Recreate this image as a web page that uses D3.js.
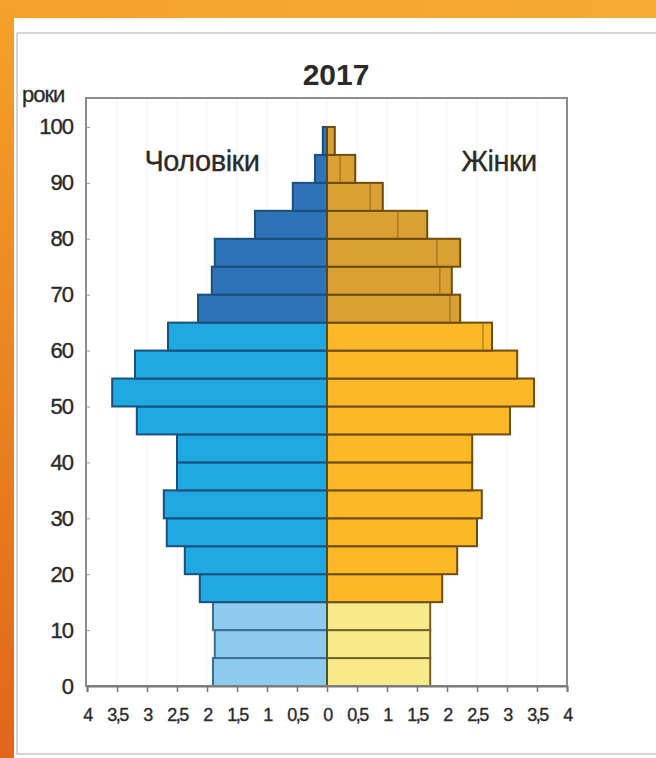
<!DOCTYPE html>
<html>
<head>
<meta charset="utf-8">
<script src="https://cdn.jsdelivr.net/npm/d3@7"></script>
<style>
  body { margin: 0; background: #fff; }
  svg text { font-family: "Liberation Sans", Arial, sans-serif; fill: #2a2a2a; }
</style>
</head>
<body>
<div id="chart"></div>
<script>
// вікові групи (початок інтервалу), %
const ageGroups = [0, 5, 10, 15, 20, 25, 30, 35, 40, 45, 50, 55, 60, 65, 70, 75, 80, 85, 90, 95];
const male   = [1.9, 1.87, 1.9, 2.12, 2.37, 2.67, 2.72, 2.5, 2.5, 3.17, 3.58, 3.2, 2.65, 2.15, 1.92, 1.87, 1.2, 0.57, 0.2, 0.07];
const female = [1.72, 1.72, 1.72, 1.92, 2.17, 2.5, 2.58, 2.42, 2.42, 3.05, 3.45, 3.17, 2.75, 2.22, 2.08, 2.22, 1.67, 0.93, 0.47, 0.13];
// внутрішні лінії на жіночих смугах (старші віки)
const femaleInner = [null, null, null, null, null, null, null, null, null, null, null, null, 2.6, 2.05, 1.88, 1.83, 1.18, 0.72, 0.22, null];
const yTicks = [0, 10, 20, 30, 40, 50, 60, 70, 80, 90, 100];
const xTicks = [-4, -3.5, -3, -2.5, -2, -1.5, -1, -0.5, 0, 0.5, 1, 1.5, 2, 2.5, 3, 3.5, 4];

const W = 656, H = 758;
const frame = { left: 86, right: 567, top: 98, bottom: 686 };

const svg = d3.select("#chart").append("svg").attr("width", W).attr("height", H);

// рамка слайда
const defs = svg.append("defs");
const gTop = defs.append("linearGradient").attr("id", "gTop").attr("x1", 0).attr("x2", 1);
gTop.append("stop").attr("offset", 0).attr("stop-color", "#f3a22a");
gTop.append("stop").attr("offset", 1).attr("stop-color", "#f7ab33");
const gLeft = defs.append("linearGradient").attr("id", "gLeft").attr("x1", 0).attr("x2", 0).attr("y1", 0).attr("y2", 1);
gLeft.append("stop").attr("offset", 0).attr("stop-color", "#f3a22a");
gLeft.append("stop").attr("offset", 1).attr("stop-color", "#e0661b");

svg.append("rect").attr("x", 0).attr("y", 0).attr("width", W).attr("height", 18).attr("fill", "url(#gTop)");
svg.append("rect").attr("x", 0).attr("y", 0).attr("width", 14).attr("height", H).attr("fill", "url(#gLeft)");
svg.append("rect").attr("x", 17).attr("y", 33).attr("width", W + 10).attr("height", 721)
    .attr("fill", "#fff").attr("stroke", "#c8c8c8").attr("stroke-width", 1.5);

const x = d3.scaleLinear().domain([-4, 4]).range([frame.left + 1, frame.right]);
const y = d3.scaleLinear().domain([0, 105]).range([frame.bottom, frame.top + 1]);

// ледь помітна сітка
svg.append("g").selectAll("line").data(xTicks.slice(1, -1)).join("line")
    .attr("x1", d => x(d)).attr("x2", d => x(d))
    .attr("y1", frame.top).attr("y2", frame.bottom)
    .attr("stroke", "#f3f3f3").attr("stroke-width", 1);

function fillMale(a) {
  if (a < 15) return "#8ccbee";
  if (a < 65) return "#20a8e1";
  return "#2e73b7";
}
function fillFemale(a) {
  if (a < 15) return "#f8ea8a";
  if (a < 65) return "#fbb827";
  return "#d9a134";
}

const bandH = y(0) - y(5);
const bars = svg.append("g");

bars.selectAll("rect.male").data(ageGroups).join("rect").attr("class", "male")
    .attr("x", (d, i) => x(-male[i])).attr("y", d => y(d + 5))
    .attr("width", (d, i) => x(0) - x(-male[i])).attr("height", bandH)
    .attr("fill", d => fillMale(d))
    .attr("stroke", d => d < 15 ? "#3c6e93" : "#1b4f7c").attr("stroke-width", 2);

bars.selectAll("rect.female").data(ageGroups).join("rect").attr("class", "female")
    .attr("x", x(0)).attr("y", d => y(d + 5))
    .attr("width", (d, i) => x(female[i]) - x(0)).attr("height", bandH)
    .attr("fill", d => fillFemale(d))
    .attr("stroke", d => d < 15 ? "#6f6428" : "#6e4c10").attr("stroke-width", 2);

bars.selectAll("line.inner").data(ageGroups.filter((d, i) => femaleInner[i] != null)).join("line")
    .attr("class", "inner")
    .attr("x1", d => x(femaleInner[ageGroups.indexOf(d)])).attr("x2", d => x(femaleInner[ageGroups.indexOf(d)]))
    .attr("y1", d => y(d + 5)).attr("y2", d => y(d))
    .attr("stroke", "#8a6216").attr("stroke-width", 1.5).attr("opacity", 0.6);

// центральна лінія
svg.append("line").attr("x1", x(0)).attr("x2", x(0)).attr("y1", y(100)).attr("y2", frame.bottom)
    .attr("stroke", "#4a4a30").attr("stroke-width", 1.5);

// рамка графіка
svg.append("rect").attr("x", frame.left).attr("y", frame.top)
    .attr("width", frame.right - frame.left).attr("height", frame.bottom - frame.top)
    .attr("fill", "none").attr("stroke", "#8c8c8c").attr("stroke-width", 2);

// вісь Y
const yAxis = d3.axisLeft(y).tickValues(yTicks).tickSize(-4).tickPadding(13);
const gy = svg.append("g").attr("transform", `translate(${frame.left},0)`).call(yAxis);
gy.select(".domain").remove();
gy.selectAll(".tick line").attr("stroke", "#999");
gy.selectAll(".tick text").attr("font-size", 22).attr("fill", "#2a2a2a")
    .attr("stroke", "#2a2a2a").attr("stroke-width", 0.4)
    .style("font-family", "'Liberation Sans', Arial, sans-serif")
    .style("letter-spacing", "-1px");

// вісь X
const fmt = d => String(Math.abs(d)).replace(".", ",");
const xAxis = d3.axisBottom(x).tickValues(xTicks).tickFormat(fmt).tickSize(6).tickPadding(16);
const gx = svg.append("g").attr("transform", `translate(0,${frame.bottom})`).call(xAxis);
gx.select(".domain").attr("stroke", "#777").attr("stroke-width", 2);
gx.selectAll(".tick line").attr("stroke", "#777").attr("stroke-width", 1.5);
gx.selectAll(".tick text").attr("font-size", 18).attr("fill", "#2a2a2a")
    .attr("stroke", "#2a2a2a").attr("stroke-width", 0.35)
    .style("font-family", "'Liberation Sans', Arial, sans-serif")
    .style("letter-spacing", "-1.5px");

// підписи
svg.append("text").attr("x", x(0) + 9).attr("y", 85).attr("text-anchor", "middle")
    .attr("font-size", 30).attr("font-weight", "bold").text("2017");
svg.append("text").attr("x", 22).attr("y", 102).attr("font-size", 22)
    .attr("stroke", "#2a2a2a").attr("stroke-width", 0.3)
    .style("letter-spacing", "-1px").text("роки");
svg.append("text").attr("x", 202).attr("y", 171).attr("text-anchor", "middle")
    .attr("font-size", 29).attr("stroke", "#2a2a2a").attr("stroke-width", 0.3)
    .style("letter-spacing", "-0.5px").text("Чоловіки");
svg.append("text").attr("x", 499).attr("y", 171).attr("text-anchor", "middle")
    .attr("font-size", 29).attr("stroke", "#2a2a2a").attr("stroke-width", 0.3)
    .style("letter-spacing", "-0.5px").text("Жінки");
</script>
</body>
</html>
